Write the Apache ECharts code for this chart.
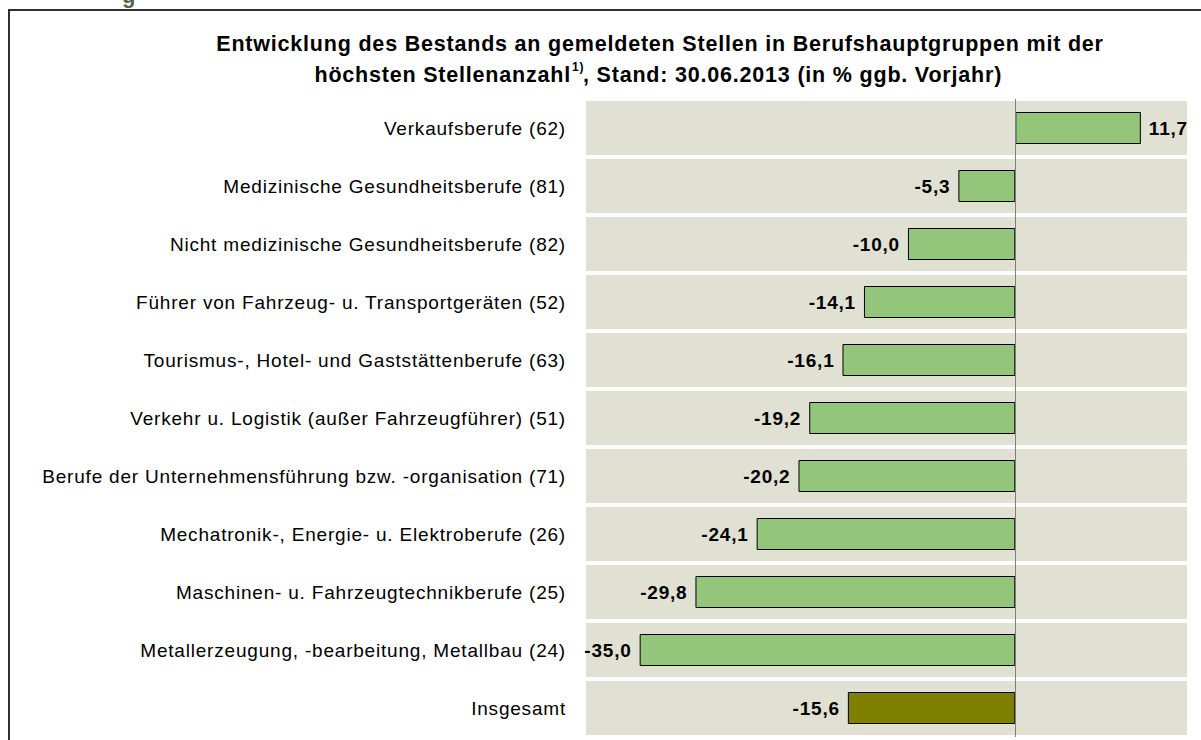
<!DOCTYPE html>
<html>
<head>
<meta charset="utf-8">
<script src="https://cdn.jsdelivr.net/npm/echarts@6/dist/echarts.min.js"></script>
<style>html,body{margin:0;padding:0;background:#fff}#c{width:1201px;height:740px}#c text{letter-spacing:0.8px}</style>
</head>
<body>
<div id="c"></div>
<script>
const categories = [
  'Verkaufsberufe (62)',
  'Medizinische Gesundheitsberufe (81)',
  'Nicht medizinische Gesundheitsberufe (82)',
  'Führer von Fahrzeug- u. Transportgeräten (52)',
  'Tourismus-, Hotel- und Gaststättenberufe (63)',
  'Verkehr u. Logistik (außer Fahrzeugführer) (51)',
  'Berufe der Unternehmensführung bzw. -organisation (71)',
  'Mechatronik-, Energie- u. Elektroberufe (26)',
  'Maschinen- u. Fahrzeugtechnikberufe (25)',
  'Metallerzeugung, -bearbeitung, Metallbau (24)',
  'Insgesamt'
];
const values = [11.7, -5.3, -10.0, -14.1, -16.1, -19.2, -20.2, -24.1, -29.8, -35.0, -15.6];
const totalLabel = 'Insgesamt';
const titleLine1 = 'Entwicklung des Bestands an gemeldeten Stellen in Berufshauptgruppen mit der';
const titleLine2a = 'höchsten Stellenanzahl';
const titleSup = '1)';
const titleLine2b = ', Stand: 30.06.2013 (in % ggb. Vorjahr)';

const FONT = 'Liberation Sans, Arial, sans-serif';
const chart = echarts.init(document.getElementById('c'), null, {renderer: 'svg'});

const seriesData = values.map((v, i) => ({
  value: v,
  itemStyle: { color: categories[i] === totalLabel ? '#808000' : '#93c57a' },
  label: { position: v < 0 ? 'left' : 'right' }
}));

chart.setOption({
  animation: false,
  backgroundColor: '#ffffff',
  grid: { left: 586, right: 14, top: 99, height: 638, backgroundColor: '#e0e0d3', show: true, borderWidth: 0 },
  xAxis: {
    type: 'value', min: -40, max: 16,
    axisLine: { show: false }, axisTick: { show: false }, axisLabel: { show: false }, splitLine: { show: false }
  },
  yAxis: {
    type: 'category', inverse: true, data: categories,
    axisLine: { show: false }, axisTick: { show: false },
    splitLine: { show: true, lineStyle: { color: '#ffffff', width: 4 } },
    axisLabel: { color: '#000', fontSize: 19, fontFamily: FONT, margin: 20 }
  },
  series: [{
    type: 'bar',
    data: seriesData,
    barWidth: 32,
    itemStyle: { borderColor: '#000', borderWidth: 1 },
    label: {
      show: true, distance: 8, color: '#000', fontWeight: 'bold', fontSize: 19, fontFamily: FONT,
      formatter: p => p.value.toFixed(1).replace('.', ',')
    },
    markLine: {
      silent: true, symbol: 'none', label: { show: false },
      lineStyle: { color: '#7f7f7f', width: 1, type: 'solid' },
      data: [{ xAxis: 0 }]
    }
  }],
  graphic: [
    { type: 'rect', shape: { x: 9, y: 10, width: 1400, height: 1000 }, style: { fill: 'none', stroke: '#303030', lineWidth: 2 }, z: 100 },
    { type: 'text', x: 122, y: -16, style: { text: 'g', font: 'bold 22px ' + FONT, fill: '#55654f' } },
    { type: 'text', x: 660, y: 44, style: { text: titleLine1, textAlign: 'center', textVerticalAlign: 'middle', font: 'bold 21.5px ' + FONT, fill: '#000' } },
    { type: 'text', x: 571, y: 75, style: { text: titleLine2a, textAlign: 'right', textVerticalAlign: 'middle', font: 'bold 21.5px ' + FONT, fill: '#000' } },
    { type: 'text', x: 572, y: 67, style: { text: titleSup, textAlign: 'left', textVerticalAlign: 'middle', font: 'bold 12px ' + FONT, fill: '#000' } },
    { type: 'text', x: 583, y: 75, style: { text: titleLine2b, textAlign: 'left', textVerticalAlign: 'middle', font: 'bold 21.5px ' + FONT, fill: '#000' } }
  ]
});
</script>
</body>
</html>
